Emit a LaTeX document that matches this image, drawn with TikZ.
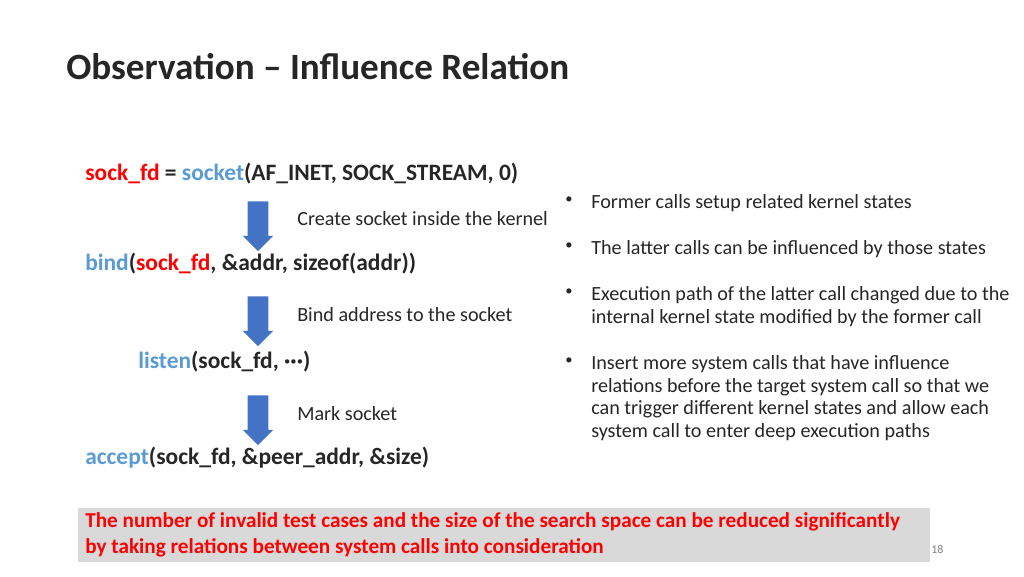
\documentclass[tikz,border=0pt]{standalone}
\usepackage{fontspec}
\setmainfont{Carlito}
\usetikzlibrary{shapes.arrows}
\definecolor{kwblue}{HTML}{5B9BD5}
\definecolor{arrblue}{HTML}{4472C4}
\definecolor{txt}{HTML}{262626}
\definecolor{boxgray}{HTML}{D9D9D9}
\tikzset{
  code/.style={anchor=west, font=\fontsize{17.7}{21}\selectfont\bfseries, text=txt, inner sep=0pt},
  note/.style={anchor=west, font=\fontsize{15.2}{18}\selectfont, text=txt, inner sep=0pt},
  bullet/.style={anchor=north west, font=\fontsize{15.2}{17.2}\selectfont, text=txt, inner sep=0pt, align=left},
  downarrow/.style={single arrow, fill=arrblue, draw=none, rotate=-90, minimum height=1.32cm,
    inner xsep=0pt, inner ysep=0.27cm, single arrow head extend=0.13cm}
}
\begin{document}
\begin{tikzpicture}[x=0.0265cm, y=-0.0265cm]
  \useasboundingbox (0,0) rectangle (1024,576);
  \node[anchor=west, font=\fontsize{28}{32}\selectfont\bfseries, text=txt, inner sep=0pt] (title) at (66,67) {Observation -- Influence Relation};
  % code lines
  \node[code] (socket) at (85,174) {\textcolor{red}{sock\_fd} = \textcolor{kwblue}{socket}(AF\_INET, SOCK\_STREAM, 0)};
  \node[code] (bind) at (85,264) {\textcolor{kwblue}{bind}(\textcolor{red}{sock\_fd}, \&addr, sizeof(addr))};
  \node[code] (listen) at (138,362) {\textcolor{kwblue}{listen}(sock\_fd, ···)};
  \node[code] (accept) at (85,458) {\textcolor{kwblue}{accept}(sock\_fd, \&peer\_addr, \&size)};
  % arrows
  \node[downarrow] (a1) at (258,221) {};
  \node[downarrow] (a2) at (258,316) {};
  \node[downarrow] (a3) at (258,415) {};
  \node[note] (n1) at (297,219) {Create socket inside the kernel};
  \node[note] (n2) at (297,315) {Bind address to the socket};
  \node[note] (n3) at (297,414) {Mark socket};
  % bullets
  \foreach \y/\t in {194/{Former calls setup related kernel states},
    240/{The latter calls can be influenced by those states},
    286/{Execution path of the latter call changed due to the\\internal kernel state modified by the former call},
    355/{Insert more system calls that have influence\\relations before the target system call so that we\\can trigger different kernel states and allow each\\system call to enter deep execution paths}}{
    \node[anchor=north west, inner sep=0pt, font=\fontsize{11}{17}\selectfont, text=txt] at (565,\y+3) {\textbullet};
    \node[bullet] at (591,\y) {\t};
  }
  % bottom box
  \node[anchor=north west, fill=boxgray, minimum width=852*0.0265cm, minimum height=54*0.0265cm,
    inner sep=0pt] (box) at (78,508) {};
  \node[anchor=west, align=left, inner sep=0pt, text=red, font=\fontsize{16}{20}\selectfont\bfseries] (concl) at (85,535)
    {The number of invalid test cases and the size of the search space can be reduced significantly\\by taking relations between system calls into consideration};
  \node[anchor=west, inner sep=0pt, text=gray, font=\fontsize{9}{10}\selectfont] (page) at (931,549) {18};
\end{tikzpicture}
\end{document}
